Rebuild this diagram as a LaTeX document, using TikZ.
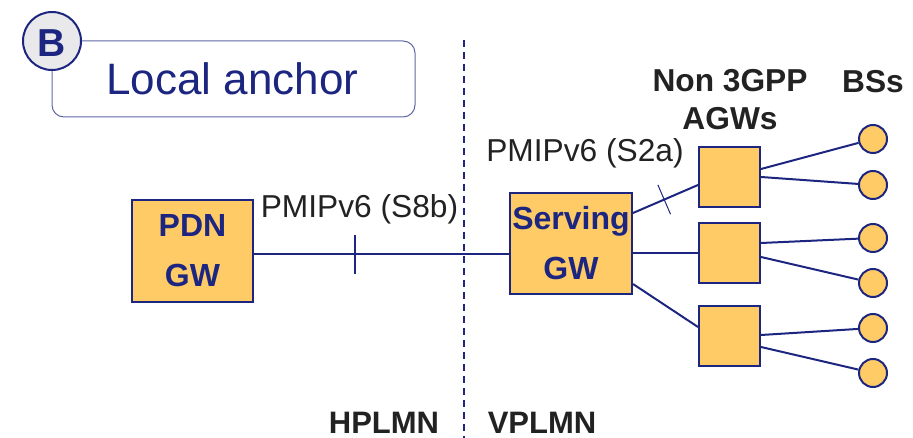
\documentclass[tikz,border=0pt]{standalone}
\usepackage{fontspec}
\setmainfont{Liberation Sans}
\usetikzlibrary{calc,decorations.markings}
\definecolor{navy}{RGB}{28,38,128}
\definecolor{gwfill}{RGB}{255,203,102}
\definecolor{badgefill}{RGB}{233,233,236}
\definecolor{labelgray}{RGB}{34,34,34}
\tikzset{
  link/.style={draw=navy, line width=2pt},
  gwbox/.style={rectangle, draw=navy, fill=gwfill, line width=2pt, inner sep=0pt,
    align=center, text=navy, font=\fontsize{32}{50}\selectfont\bfseries},
  agwbox/.style={rectangle, draw=navy, fill=gwfill, line width=2pt, inner sep=0pt,
    minimum width=61pt, minimum height=60pt},
  bs/.style={circle, draw=navy, fill=gwfill, line width=2pt, inner sep=0pt, minimum size=28pt},
  lbl/.style={anchor=base, inner sep=0pt, text=labelgray, font=\fontsize{31.7}{32}\selectfont},
  boldlbl/.style={lbl, font=\fontsize{31.7}{32}\selectfont\bfseries},
  plmn/.style={lbl, font=\fontsize{31}{31}\selectfont\bfseries},
  crossbar/.style={postaction={decorate, decoration={markings,
    mark=at position #1 with {\draw[navy, line width=1pt] (0,-16pt) -- (0,16pt);}}}}
}
\begin{document}
\begin{tikzpicture}[x=1pt, y=-1pt]
\useasboundingbox (0,0) rectangle (913,438);

% title card with the round "B" badge on its corner
\node[rectangle, draw=navy!70, line width=1pt, rounded corners=12pt, inner sep=0pt,
  minimum width=363pt, minimum height=76pt] (title) at (233.5,79) {};
\node[anchor=base, inner sep=0pt, text=navy, font=\fontsize{44}{44}\selectfont] (titletext) at (232.5,95) {Local anchor};
\node[circle, draw=navy, fill=badgefill, line width=2pt, inner sep=0pt, minimum size=58pt] (badge) at (52,41) {};
\node[anchor=base, inner sep=0pt, text=navy, font=\fontsize{39}{39}\selectfont\bfseries] (badgeB) at (52,57) {B};

% HPLMN / VPLMN border
\coordinate (bordertop) at (464,40);
\coordinate (borderbot) at (464,438);
\draw[navy, line width=2pt, dash pattern=on 7pt off 5pt] (bordertop) -- (borderbot);
\node[plmn] (hplmn) at (384,433) {HPLMN};
\node[plmn] (vplmn) at (542,433) {VPLMN};

% gateways
\node[gwbox, minimum width=121pt, minimum height=102pt] (pdn) at (192.5,251) {PDN\\GW};
\node[gwbox, minimum width=122pt, minimum height=101pt] (sgw) at (571,243.5) {Serving\\GW};

% non-3GPP access gateways
\node[agwbox] (agw1) at (729.5,177) {};
\node[agwbox] (agw2) at (729.5,253) {};
\node[agwbox] (agw3) at (729.5,336) {};

% base stations
\node[bs] (bs1) at (873,139) {};
\node[bs] (bs2) at (873,185) {};
\node[bs] (bs3) at (873,238) {};
\node[bs] (bs4) at (873,283) {};
\node[bs] (bs5) at (873,328) {};
\node[bs] (bs6) at (873,373) {};

% S8b interface
\coordinate (s8b) at (0,254);
\draw[link] (pdn.east |- s8b) -- (sgw.west |- s8b) coordinate[pos=0.397] (s8btick);
\draw[navy, line width=2pt] ($(s8btick)+(0,-19)$) -- ($(s8btick)+(0,20)$);
\node[lbl] (s8blabel) at (359.5,218) {PMIPv6 (S8b)};

% S2a interfaces towards the AGWs
\coordinate (sgwout1) at (0,213);
\coordinate (agwin1) at (0,185);
\coordinate (sgwout3) at (0,284);
\coordinate (agwin3) at (0,327);
\draw[link, crossbar=0.48] (sgw.east |- sgwout1) -- (agw1.west |- agwin1);
\draw[link] (sgw.east |- agw2) -- (agw2.west);
\draw[link] (sgw.east |- sgwout3) -- (agw3.west |- agwin3);
\node[lbl] (s2alabel) at (585,162) {PMIPv6 (S2a)};

% AGW to base station links
\draw[link] ($(agw1.east)+(0,-8)$) -- (bs1);
\draw[link] ($(agw1.east)+(0,0)$) -- (bs2);
\draw[link] ($(agw2.east)+(0,-10)$) -- (bs3);
\draw[link] ($(agw2.east)+(0,4)$) -- (bs4);
\draw[link] ($(agw3.east)+(0,-1)$) -- (bs5);
\draw[link] ($(agw3.east)+(0,11)$) -- (bs6);

% column headings
\node[boldlbl] (agwhead1) at (730,92) {Non 3GPP};
\node[boldlbl] (agwhead2) at (730,130) {AGWs};
\node[boldlbl] (bshead) at (873,93) {BSs};
\end{tikzpicture}
\end{document}
